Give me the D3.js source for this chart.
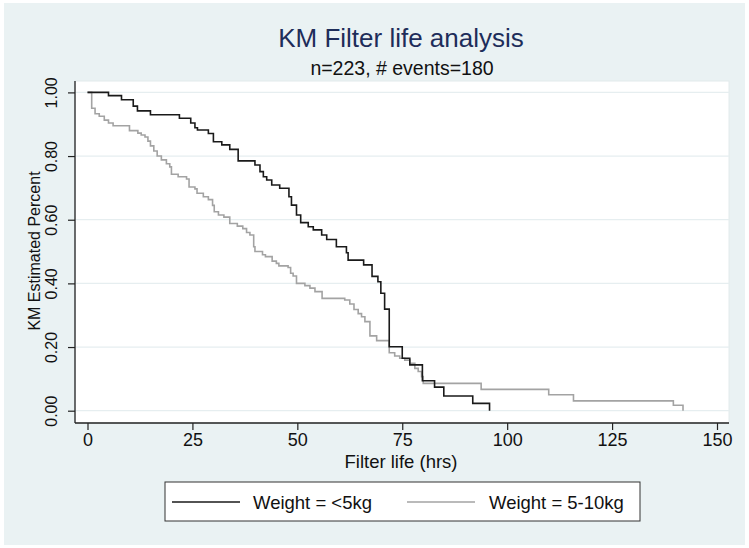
<!DOCTYPE html>
<html>
<head>
<meta charset="utf-8">
<script src="https://cdn.jsdelivr.net/npm/d3@7"></script>
<style>
  html, body { margin: 0; padding: 0; background: #ffffff; }
  svg { display: block; font-family: "Liberation Sans", Arial, Helvetica, sans-serif; }
</style>
</head>
<body>
<svg id="chart" width="749" height="548"></svg>
<script>
// ---- Data ----
const seriesNames = ["Weight = <5kg", "Weight = 5-10kg"];

// Group 1: Weight < 5kg — event times (hrs) and KM survival after each time
const lt5Times = [0, 5.0, 8.1, 10.9, 11.9, 15.0, 21.9, 24.6, 25.6, 26.2, 28.8, 30.0, 32.0, 33.9, 35.9,
  39.9, 41.1, 41.9, 42.7, 43.9, 45.8, 48.0, 48.6, 49.8, 50.8, 52.6, 53.8, 55.8, 57.0, 59.3,
  61.7, 62.1, 65.8, 67.8, 69.2, 69.9, 70.8, 71.9, 75.0, 76.8, 79.8, 82.7, 84.9, 91.8, 95.8];
const lt5Surv = [1.0, 0.990, 0.977, 0.957, 0.942, 0.930, 0.919, 0.904, 0.889, 0.882, 0.871, 0.845, 0.835, 0.821, 0.785,
  0.772, 0.751, 0.735, 0.725, 0.709, 0.699, 0.672, 0.646, 0.615, 0.591, 0.578, 0.568, 0.552, 0.538, 0.515,
  0.496, 0.473, 0.458, 0.422, 0.405, 0.369, 0.319, 0.201, 0.165, 0.144, 0.094, 0.074, 0.046, 0.023, 0.0];

// Group 2: Weight 5-10kg
const w510Times = [0, 1.0, 1.8, 2.8, 4.0, 5.0, 6.1, 10.0, 12.0, 12.8, 13.7, 14.4, 15.0, 15.8, 16.6,
  17.6, 18.8, 19.6, 20.0, 21.6, 23.6, 24.2, 25.6, 26.1, 27.6, 28.8, 29.8, 30.2, 31.2, 32.5,
  33.9, 35.7, 37.0, 37.9, 38.7, 39.6, 39.9, 41.7, 42.4, 44.0, 45.0, 45.6, 47.8, 48.4, 49.0,
  49.8, 51.8, 53.0, 54.2, 55.9, 61.3, 62.5, 63.5, 64.5, 65.3, 66.1, 67.3, 68.9, 71.9, 73.2,
  74.4, 75.6, 76.8, 78.0, 78.8, 79.6, 80.0, 93.8, 109.9, 115.8, 139.6, 141.9];
const w510Surv = [1.0, 0.950, 0.933, 0.925, 0.913, 0.904, 0.895, 0.880, 0.872, 0.866, 0.860, 0.847, 0.832, 0.816, 0.800,
  0.788, 0.776, 0.766, 0.743, 0.735, 0.728, 0.703, 0.697, 0.683, 0.672, 0.663, 0.645, 0.625, 0.615, 0.608,
  0.588, 0.580, 0.572, 0.560, 0.552, 0.515, 0.500, 0.490, 0.484, 0.470, 0.463, 0.455, 0.450, 0.432, 0.423,
  0.400, 0.393, 0.385, 0.374, 0.353, 0.348, 0.335, 0.318, 0.305, 0.295, 0.280, 0.235, 0.220, 0.182, 0.172,
  0.165, 0.159, 0.149, 0.133, 0.123, 0.107, 0.086, 0.067, 0.050, 0.031, 0.017, 0.0];

const xTicks = [0, 25, 50, 75, 100, 125, 150];
const yTicks = [0, 0.2, 0.4, 0.6, 0.8, 1.0];

const titleText = "KM Filter life analysis";
const subtitleText = "n=223, # events=180";
const xTitle = "Filter life (hrs)";
const yTitle = "KM Estimated Percent";

// ---- Drawing ----
const svg = d3.select("#chart");

// background
svg.append("rect").attr("x", 4).attr("y", 3).attr("width", 741).attr("height", 542).attr("fill", "#eaf2f3");

const plot = { left: 75, right: 729, top: 81, bottom: 423 };
svg.append("rect")
  .attr("x", plot.left).attr("y", plot.top)
  .attr("width", plot.right - plot.left).attr("height", plot.bottom - plot.top)
  .attr("fill", "#ffffff").attr("stroke", "#e2eaec").attr("stroke-width", 1);

const x = d3.scaleLinear().domain([0, 150]).range([87.5, 717]);
const y = d3.scaleLinear().domain([0, 1]).range([410.7, 92.4]);

// gridlines
svg.append("g").selectAll("line").data(yTicks).join("line")
  .attr("x1", plot.left).attr("x2", plot.right)
  .attr("y1", d => y(d)).attr("y2", d => y(d))
  .attr("stroke", "#e6eef0").attr("stroke-width", 1.2);

// curves
const line = d3.line().x(d => x(d[0])).y(d => y(d[1])).curve(d3.curveStepAfter);
const g510 = d3.zip(w510Times, w510Surv);
const glt5 = d3.zip(lt5Times, lt5Surv);
svg.append("path").datum(g510).attr("d", line)
  .attr("fill", "none").attr("stroke", "#a3a3a3").attr("stroke-width", 1.6);
svg.append("path").datum(glt5).attr("d", line)
  .attr("fill", "none").attr("stroke", "#1a1a1a").attr("stroke-width", 1.6);

// axes
const yAxis = d3.axisLeft(y).tickValues(yTicks).tickFormat(d3.format(".2f")).tickSize(7).tickSizeOuter(0);
const ya = svg.append("g").attr("transform", `translate(${plot.left},0)`).call(yAxis);
ya.select(".domain").attr("d", `M0,${plot.top}V${plot.bottom}`).attr("stroke", "#222").attr("stroke-width", 1.3);
ya.selectAll(".tick line").attr("stroke", "#222").attr("stroke-width", 1.2);
ya.selectAll(".tick text")
  .attr("x", null).attr("dy", null)
  .attr("transform", "translate(-18,0) rotate(-90)")
  .attr("text-anchor", "middle")
  .attr("font-size", 16).attr("fill", "#111")
  .attr("font-family", "'Liberation Sans', Arial, sans-serif");

const xAxis = d3.axisBottom(x).tickValues(xTicks).tickFormat(d3.format("d")).tickSize(7).tickSizeOuter(0);
const xa = svg.append("g").attr("transform", `translate(0,${plot.bottom})`).call(xAxis);
xa.select(".domain").attr("d", `M${plot.left},0H${plot.right}`).attr("stroke", "#222").attr("stroke-width", 1.3);
xa.selectAll(".tick line").attr("stroke", "#222").attr("stroke-width", 1.2);
xa.selectAll(".tick text").attr("y", null).attr("dy", null)
  .attr("transform", "translate(0,23)")
  .attr("font-size", 18).attr("fill", "#111")
  .attr("font-family", "'Liberation Sans', Arial, sans-serif");

// titles
svg.append("text").attr("x", 401).attr("y", 47).attr("text-anchor", "middle")
  .attr("font-size", 26).attr("fill", "#1e2d5a").text(titleText);
svg.append("text").attr("x", 402).attr("y", 75).attr("text-anchor", "middle")
  .attr("font-size", 19.5).attr("fill", "#111").text(subtitleText);
svg.append("text").attr("x", 401).attr("y", 468).attr("text-anchor", "middle")
  .attr("font-size", 18.5).attr("fill", "#111").text(xTitle);
svg.append("text").attr("transform", "translate(40,251) rotate(-90)").attr("text-anchor", "middle")
  .attr("font-size", 16).attr("fill", "#111").text(yTitle);

// legend
const leg = svg.append("g");
leg.append("rect").attr("x", 165).attr("y", 482).attr("width", 475).attr("height", 39)
  .attr("fill", "#ffffff").attr("stroke", "#333").attr("stroke-width", 1);
const legItems = [
  { name: seriesNames[0], color: "#1a1a1a", lx: 172, tx: 253 },
  { name: seriesNames[1], color: "#a3a3a3", lx: 407, tx: 489 }
];
legItems.forEach(it => {
  leg.append("line").attr("x1", it.lx).attr("x2", it.lx + 68).attr("y1", 502).attr("y2", 502)
    .attr("stroke", it.color).attr("stroke-width", 1.6);
  leg.append("text").attr("x", it.tx).attr("y", 509).attr("font-size", 18.5).attr("fill", "#111").text(it.name);
});
</script>
</body>
</html>
